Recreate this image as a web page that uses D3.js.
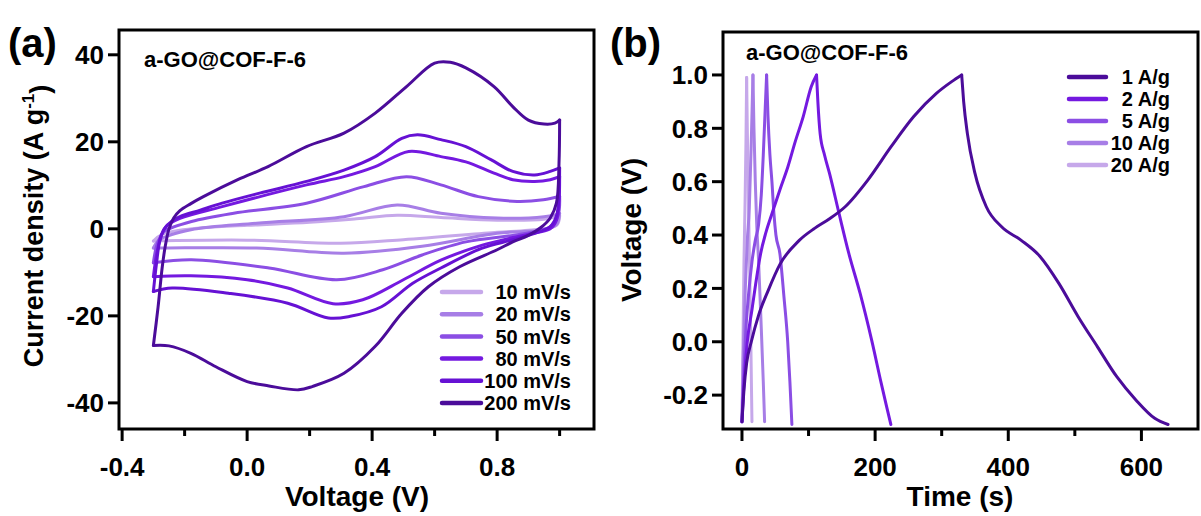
<!DOCTYPE html>
<html>
<head>
<meta charset="utf-8">
<script src="https://cdn.jsdelivr.net/npm/d3@7"></script>
<style>
  html, body { margin: 0; padding: 0; background: #fff; }
  svg { display: block; }
  text { font-family: "Liberation Sans", Arial, Helvetica, sans-serif; font-weight: bold; fill: #000; }
</style>
</head>
<body>
<svg id="chart" width="1201" height="516"></svg>
<script>
// ---------------- DATA ----------------
// Panel (a): CV loops, [voltage V, current density A/g]; upper branch -> 1.0 V, then lower branch back
const cvLabels = ["10 mV/s", "20 mV/s", "50 mV/s", "80 mV/s", "100 mV/s", "200 mV/s"];
const cv10 = [[-0.3,-2.8],[-0.27,-1.2],[-0.15,0.2],[0.0,0.8],[0.2,1.5],[0.35,2.3],[0.48,3.1],[0.62,2.6],[0.8,2.0],[0.95,2.2],[1.0,3.0],
  [0.99,0.8],[0.9,-0.3],[0.8,-0.8],[0.5,-2.5],[0.3,-3.3],[0.0,-2.6],[-0.3,-2.8]];
const cv20 = [[-0.3,-4.4],[-0.28,-2.5],[-0.18,-0.2],[0.03,1.3],[0.31,2.8],[0.48,5.5],[0.62,3.6],[0.8,2.5],[0.95,2.8],[1.0,3.5],
  [0.99,1.0],[0.95,-0.2],[0.8,-1.0],[0.56,-4.0],[0.31,-5.6],[0.03,-4.4],[-0.26,-4.4],[-0.3,-4.4]];
const cv50 = [[-0.3,-7.8],[-0.29,-4],[-0.275,-1.5],[-0.264,-0.5],[-0.178,1.7],[-0.043,3.6],[0.19,5.9],[0.374,9.7],[0.51,12.0],[0.62,10.1],[0.74,7.4],[0.864,6.3],[0.948,6.7],[1.0,7.5],
  [0.995,3.0],[0.97,0.5],[0.93,-0.5],[0.85,-1.5],[0.7,-3.0],[0.56,-6.0],[0.434,-9.4],[0.287,-11.7],[0.07,-9.0],[-0.178,-7.1],[-0.3,-7.8]];
const cv80 = [[-0.3,-11],[-0.29,-6],[-0.275,-1.5],[-0.26,0.5],[-0.215,2.4],[-0.08,5.1],[0.19,10.1],[0.31,12.0],[0.41,14.3],[0.517,17.8],[0.62,16.6],[0.7,15.4],[0.79,12.8],[0.85,11.3],[0.92,10.9],[0.97,11.3],[1.0,12.0],
  [0.998,6],[0.99,2],[0.97,0],[0.93,-0.8],[0.85,-2.0],[0.75,-3.8],[0.62,-7.2],[0.5,-11.7],[0.37,-16.3],[0.275,-17.2],[0.13,-13.6],[0.0,-11.7],[-0.18,-10.8],[-0.3,-11]];
const cv100 = [[-0.3,-14.4],[-0.29,-8],[-0.28,-3],[-0.265,0],[-0.24,1.8],[-0.215,2.8],[-0.15,4.3],[-0.08,5.9],[0.04,8.2],[0.19,10.9],[0.31,13.5],[0.41,16.6],[0.495,20.8],[0.545,21.6],[0.62,20.5],[0.7,18.9],[0.78,15.9],[0.85,13.2],[0.92,12.4],[0.97,13.2],[1.0,14.0],
  [0.998,8],[0.99,3],[0.97,0.5],[0.93,-0.8],[0.85,-2.5],[0.75,-4.5],[0.62,-9.0],[0.53,-12.5],[0.43,-17.9],[0.33,-20.1],[0.26,-20.5],[0.13,-17.1],[-0.06,-14.8],[-0.24,-13.6],[-0.3,-14.4]];
const cv200 = [[-0.3,-26.8],[-0.285,-18],[-0.272,-9],[-0.262,-4],[-0.25,0],[-0.235,2.5],[-0.215,4.2],[-0.18,5.8],[-0.14,7.4],[-0.03,11.3],[0.067,14.3],[0.19,18.9],[0.31,22.0],[0.41,26.6],[0.51,32.7],[0.6,38.1],[0.65,38.3],[0.7,37.0],[0.79,32.7],[0.85,28.1],[0.9,25.0],[0.95,24.1],[0.985,24.3],[1.0,25.0],
  [0.998,15],[0.99,6],[0.97,2.5],[0.94,0.3],[0.9,-1.5],[0.85,-3.0],[0.8,-4.8],[0.68,-8.7],[0.58,-13.3],[0.495,-19.4],[0.41,-27.0],[0.31,-33.2],[0.21,-36.2],[0.165,-37.0],[0.07,-36.1],[0.0,-35.1],[-0.1,-31.7],[-0.18,-28.6],[-0.25,-26.9],[-0.3,-26.8]];
const cvSeries = [cv10, cv20, cv50, cv80, cv100, cv200];
const cvColors = ["#c6a8ea", "#a77ee6", "#8b4ee4", "#7419e0", "#6611d4", "#4b0c9a"];
const cvXTicks = [-0.4, -0.2, 0.0, 0.2, 0.4, 0.6, 0.8, 1.0];
const cvXLabels = ["-0.4", "", "0.0", "", "0.4", "", "0.8", ""];
const cvYTicks = [-40, -20, 0, 20, 40];
const cvYLabels = ["-40", "-20", "0", "20", "40"];

// Panel (b): GCD curves, [time s, voltage V]
const gcdLabels = ["1 A/g", "2 A/g", "5 A/g", "10 A/g", "20 A/g"];
const gcd1 = [[0,-0.3],[3,-0.18],[7,-0.08],[14,0.0],[25,0.1],[39,0.19],[57,0.29],[86,0.38],[109,0.425],[131,0.46],[155,0.506],[189,0.606],[224,0.731],[258,0.844],[292,0.931],[315,0.975],[330,1.0],
  [333,0.9],[338.6,0.78],[350,0.631],[367,0.506],[390,0.431],[419,0.381],[448,0.319],[476,0.219],[505,0.094],[534,-0.019],[563,-0.131],[592,-0.219],[620,-0.287],[640,-0.31]];
const gcd2 = [[0,-0.3],[2,-0.2],[4,-0.12],[8,0.0],[15,0.12],[22,0.24],[28,0.33],[36,0.41],[45,0.48],[57,0.57],[69,0.656],[80,0.75],[92,0.844],[104,0.956],[112,1.0],
  [114,0.9],[117.4,0.78],[124,0.7],[131.5,0.631],[145.8,0.481],[160.5,0.331],[177.5,0.181],[194.8,0.006],[209.2,-0.156],[217,-0.24],[223.6,-0.31]];
const gcd5 = [[0,-0.3],[3,-0.1],[6,0.05],[10,0.18],[15,0.3],[20,0.38],[25,0.44],[29,0.55],[32,0.7],[35,0.88],[37,1.0],
  [39,0.85],[42,0.7],[45,0.6],[48,0.48],[51,0.4],[57,0.33],[63,0.17],[68.7,0.0],[72,-0.15],[75,-0.31]];
const gcd10 = [[0,-0.3],[2,-0.05],[5,0.2],[8,0.38],[11,0.5],[14,0.75],[16.5,1.0],
  [18,0.8],[20,0.6],[22,0.45],[25,0.3],[29,0.05],[32,-0.15],[34,-0.3]];
const gcd20 = [[0,-0.3],[1.5,0.0],[3,0.3],[4.5,0.5],[6,0.75],[7,0.99],
  [8,0.8],[9.5,0.55],[11,0.35],[13,0.05],[15,-0.3]];
const gcdSeries = [gcd1, gcd2, gcd5, gcd10, gcd20];
const gcdColors = ["#4b0c9a", "#7419e0", "#8b4ee4", "#a77ee6", "#c6a8ea"];
const gcdXTicks = [0, 100, 200, 300, 400, 500, 600];
const gcdXLabels = ["0", "", "200", "", "400", "", "600"];
const gcdYTicks = [-0.2, 0.0, 0.2, 0.4, 0.6, 0.8, 1.0];
const gcdYLabels = ["-0.2", "0.0", "0.2", "0.4", "0.6", "0.8", "1.0"];

// ---------------- DRAW ----------------
const svg = d3.select("#chart");

function splitAtMax(arr, idx) {
  let m = 0;
  arr.forEach((d, i) => { if (d[idx] > arr[m][idx]) m = i; });
  return [arr.slice(0, m + 1), arr.slice(m)];
}

function panel(opts) {
  const { left, right, top, bottom, xDomain, yDomain } = opts;
  const x = d3.scaleLinear().domain(xDomain).range([left, right]);
  const y = d3.scaleLinear().domain(yDomain).range([bottom, top]);
  const g = svg.append("g");

  const xt = g.append("g").attr("transform", `translate(0,${bottom})`);
  xt.call(d3.axisBottom(x).tickValues(opts.xTicks).tickSize(0).tickFormat(""));
  xt.select(".domain").remove();
  opts.xTicks.forEach((v, i) => {
    const major = opts.xLabels[i] !== "";
    g.append("line").attr("x1", x(v)).attr("x2", x(v)).attr("y1", bottom).attr("y2", bottom + (major ? 12 : 7))
      .attr("stroke", "#000").attr("stroke-width", 3);
    if (major) g.append("text").attr("x", x(v)).attr("y", bottom + 47).attr("text-anchor", "middle")
      .style("font-size", "26px").text(opts.xLabels[i]);
  });
  const yt = g.append("g").attr("transform", `translate(${left},0)`);
  yt.call(d3.axisLeft(y).tickValues(opts.yTicks).tickSize(0).tickFormat(""));
  yt.select(".domain").remove();
  opts.yTicks.forEach((v, i) => {
    g.append("line").attr("x1", left - 11).attr("x2", left).attr("y1", y(v)).attr("y2", y(v))
      .attr("stroke", "#000").attr("stroke-width", 3);
    g.append("text").attr("x", left - 15).attr("y", y(v)).attr("dy", "0.36em").attr("text-anchor", "end")
      .style("font-size", "26px").text(opts.yLabels[i]);
  });

  const line = d3.line().x(d => x(d[0])).y(d => y(d[1])).curve(opts.curve);
  opts.series.forEach((s, i) => {
    const parts = splitAtMax(s, opts.splitIdx);
    parts.forEach(p => {
      g.append("path").attr("d", line(p)).attr("fill", "none").attr("stroke", opts.colors[i])
        .attr("stroke-width", 3).attr("stroke-linejoin", "round").attr("stroke-linecap", "round");
    });
  });

  g.append("rect").attr("x", left).attr("y", top).attr("width", right - left).attr("height", bottom - top)
    .attr("fill", "none").attr("stroke", "#000").attr("stroke-width", 3);

  opts.legendLabels.forEach((lab, i) => {
    const ly = opts.legendY0 + i * opts.legendDy;
    g.append("line").attr("x1", opts.legendX1).attr("x2", opts.legendX2).attr("y1", ly).attr("y2", ly)
      .attr("stroke", opts.legendColors[i]).attr("stroke-width", 4.5).attr("stroke-linecap", "round");
    g.append("text").attr("x", opts.legendTextX).attr("y", ly).attr("dy", "0.36em").attr("text-anchor", "end")
      .style("font-size", "20px").text(lab);
  });

  g.append("text").attr("x", opts.insetX).attr("y", opts.insetY).style("font-size", "22px").text("a-GO@COF-F-6");
  return { x, y, g };
}

panel({
  left: 119, right: 594, top: 30, bottom: 429,
  xDomain: [-0.41, 1.11], yDomain: [-46, 45.7],
  xTicks: cvXTicks, xLabels: cvXLabels, yTicks: cvYTicks, yLabels: cvYLabels,
  series: cvSeries, colors: cvColors, splitIdx: 0,
  curve: d3.curveCatmullRom.alpha(0.5),
  legendLabels: cvLabels, legendColors: cvColors,
  legendX1: 442, legendX2: 481, legendTextX: 571, legendY0: 292, legendDy: 22.2,
  insetX: 144, insetY: 67
});

panel({
  left: 723, right: 1198, top: 32, bottom: 429,
  xDomain: [-28.5, 685], yDomain: [-0.327, 1.161],
  xTicks: gcdXTicks, xLabels: gcdXLabels, yTicks: gcdYTicks, yLabels: gcdYLabels,
  series: gcdSeries.slice().reverse(), colors: gcdColors.slice().reverse(), splitIdx: 1,
  curve: d3.curveMonotoneX,
  legendLabels: gcdLabels, legendColors: gcdColors,
  legendX1: 1069, legendX2: 1106, legendTextX: 1170, legendY0: 77, legendDy: 22,
  insetX: 746, insetY: 60
});

svg.append("text").attr("x", 357).attr("y", 506).attr("text-anchor", "middle").style("font-size", "28px").text("Voltage (V)");
svg.append("text").attr("x", 960).attr("y", 506).attr("text-anchor", "middle").style("font-size", "28px").text("Time (s)");

const ya = svg.append("text").attr("transform", "translate(43,226) rotate(-90)").attr("text-anchor", "middle").style("font-size", "27px");
ya.append("tspan").text("Current density (A g");
ya.append("tspan").attr("dy", "-0.55em").style("font-size", "17px").text("-1");
ya.append("tspan").attr("dy", "0.55em").text(")");

svg.append("text").attr("transform", "translate(641,230) rotate(-90)").attr("text-anchor", "middle").style("font-size", "28px").text("Voltage (V)");

svg.append("text").attr("x", 8).attr("y", 57).style("font-size", "40px").text("(a)");
svg.append("text").attr("x", 610).attr("y", 57).style("font-size", "40px").text("(b)");
</script>
</body>
</html>
